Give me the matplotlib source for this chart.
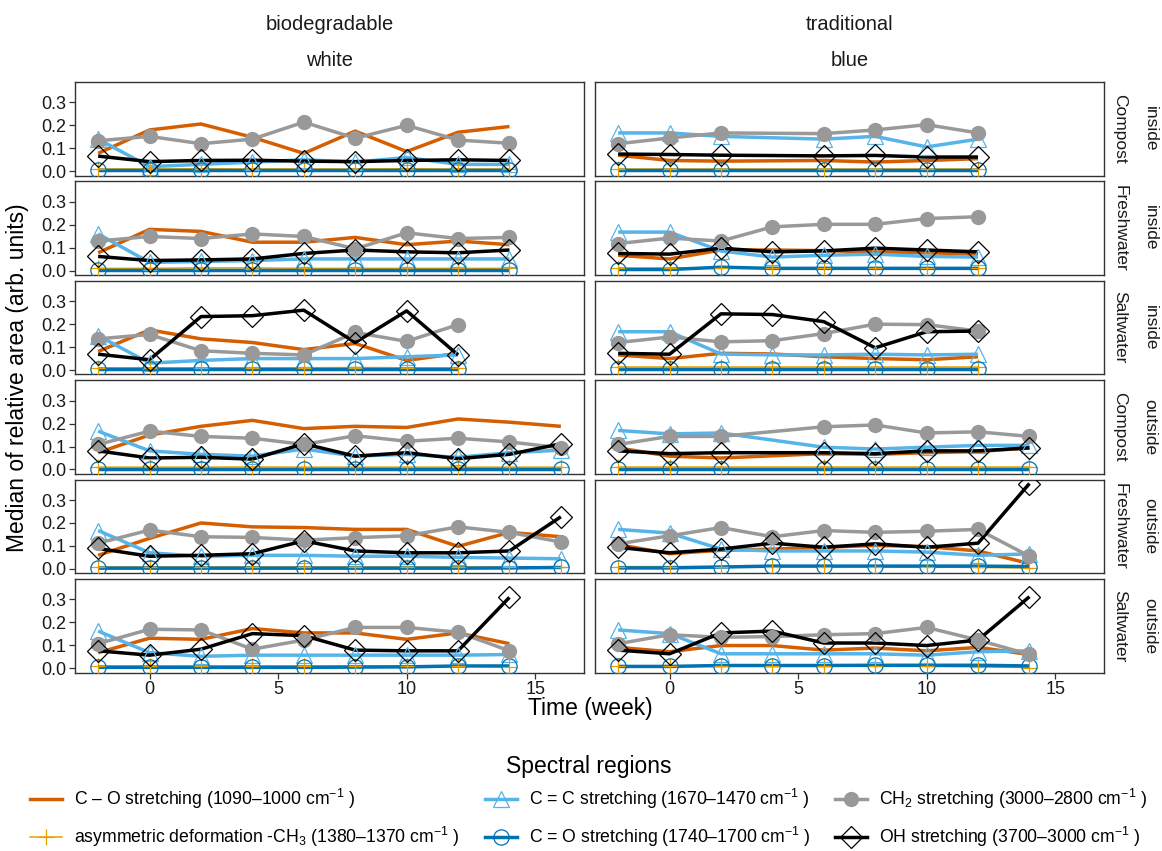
"""
Median relative area of spectral regions over time, faceted by plastic and medium
"""

import matplotlib

matplotlib.use("Agg")
import matplotlib.pyplot as plt
from matplotlib.lines import Line2D

plt.rcParams["font.family"] = ["Liberation Sans", "DejaVu Sans"]
plt.rcParams["mathtext.fontset"] = "custom"
plt.rcParams["mathtext.rm"] = "Liberation Sans"
plt.rcParams["mathtext.it"] = "Liberation Sans:italic"

# facets
plastics = ["biodegradable", "traditional"]
colours = ["white", "blue"]
media = ["Compost", "Freshwater", "Saltwater", "Compost", "Freshwater", "Saltwater"]
places = ["inside", "inside", "inside", "outside", "outside", "outside"]

# time points, one list per row (inside C/F/S, outside C/F/S)
weeks_bio = [
    [-2, 0, 2, 4, 6, 8, 10, 12, 14],
    [-2, 0, 2, 4, 6, 8, 10, 12, 14],
    [-2, 0, 2, 4, 6, 8, 10, 12],
    [-2, 0, 2, 4, 6, 8, 10, 12, 14, 16],
    [-2, 0, 2, 4, 6, 8, 10, 12, 14, 16],
    [-2, 0, 2, 4, 6, 8, 10, 12, 14],
]
weeks_trad = [
    [-2, 0, 2, 6, 8, 10, 12],
    [-2, 0, 2, 4, 6, 8, 10, 12],
    [-2, 0, 2, 4, 6, 8, 10, 12],
    [-2, 0, 2, 6, 8, 10, 12, 14],
    [-2, 0, 2, 4, 6, 8, 10, 12, 14],
    [-2, 0, 2, 4, 6, 8, 10, 12, 14],
]

# C - O stretching
co_bio = [
    [0.078, 0.18, 0.206, 0.148, 0.078, 0.175, 0.086, 0.17, 0.195],
    [0.078, 0.18, 0.171, 0.124, 0.124, 0.145, 0.113, 0.129, 0.113],
    [0.081, 0.175, 0.136, 0.12, 0.089, 0.116, 0.042, 0.073],
    [0.073, 0.15, 0.188, 0.214, 0.178, 0.188, 0.183, 0.22, 0.206, 0.188],
    [0.059, 0.133, 0.2, 0.183, 0.18, 0.172, 0.172, 0.098, 0.159, 0.14],
    [0.068, 0.131, 0.126, 0.173, 0.154, 0.154, 0.126, 0.154, 0.107],
]
co_trad = [
    [0.07, 0.047, 0.044, 0.047, 0.04, 0.047, 0.055],
    [0.067, 0.051, 0.09, 0.09, 0.087, 0.082, 0.078, 0.072],
    [0.066, 0.05, 0.073, 0.07, 0.058, 0.05, 0.045, 0.058],
    [0.094, 0.058, 0.05, 0.069, 0.066, 0.073, 0.078, 0.094],
    [0.106, 0.066, 0.081, 0.086, 0.094, 0.102, 0.097, 0.078, 0.023],
    [0.091, 0.072, 0.099, 0.099, 0.079, 0.088, 0.076, 0.091, 0.06],
]

# asymmetric deformation -CH3
ch3_bio = [
    [0.01, 0.01, 0.011, 0.01, 0.01, 0.01, 0.011, 0.01, 0.01],
    [0.01, 0.01, 0.012, 0.012, 0.01, 0.01, 0.01, 0.01, 0.01],
    [0.01, 0.01, 0.01, 0.01, 0.01, 0.011, 0.01, 0.01],
    [0.01, 0.01, 0.01, 0.011, 0.01, 0.01, 0.01, 0.01, 0.01, 0.01],
    [0.008, 0.008, 0.008, 0.008, 0.008, 0.008, 0.008, 0.008, 0.008, 0.008],
    [0.01, 0.01, 0.01, 0.01, 0.01, 0.01, 0.01, 0.01, 0.006],
]
ch3_trad = [
    [0.012, 0.012, 0.012, 0.012, 0.012, 0.012, 0.012],
    [0.012, 0.012, 0.012, 0.012, 0.012, 0.012, 0.012, 0.012],
    [0.012, 0.012, 0.012, 0.012, 0.012, 0.012, 0.012, 0.012],
    [0.01, 0.01, 0.01, 0.01, 0.01, 0.01, 0.01, 0.01],
    [0.01, 0.01, 0.01, 0.01, 0.01, 0.01, 0.008, 0.006, 0.004],
    [0.01, 0.01, 0.01, 0.01, 0.01, 0.008, 0.008, 0.006, 0.003],
]

# C = C stretching
cc_bio = [
    [0.14, 0.02, 0.03, 0.04, 0.05, 0.04, 0.06, 0.03, 0.03],
    [0.16, 0.036, 0.04, 0.044, 0.051, 0.051, 0.051, 0.051, 0.051],
    [0.15, 0.03, 0.042, 0.05, 0.05, 0.05, 0.058, 0.066],
    [0.167, 0.081, 0.066, 0.058, 0.089, 0.058, 0.066, 0.053, 0.073, 0.084],
    [0.167, 0.07, 0.055, 0.059, 0.059, 0.055, 0.055, 0.05, 0.047, 0.044],
    [0.162, 0.068, 0.052, 0.057, 0.057, 0.057, 0.057, 0.057, 0.06],
]
cc_trad = [
    [0.167, 0.167, 0.152, 0.14, 0.152, 0.106, 0.14],
    [0.168, 0.168, 0.086, 0.059, 0.067, 0.072, 0.062, 0.059],
    [0.167, 0.167, 0.07, 0.066, 0.066, 0.069, 0.066, 0.069],
    [0.17, 0.155, 0.159, 0.097, 0.089, 0.097, 0.105, 0.105],
    [0.172, 0.156, 0.086, 0.078, 0.078, 0.078, 0.073, 0.059, 0.065],
    [0.167, 0.151, 0.063, 0.063, 0.063, 0.063, 0.057, 0.072, 0.076],
]

# C = O stretching
cdo_bio = [
    [0.004, 0.004, 0.004, 0.004, 0.004, 0.004, 0.004, 0.004, 0.004],
    [0.004, 0.004, 0.004, 0.004, 0.004, 0.004, 0.004, 0.004, 0.004],
    [0.004, 0.004, 0.004, 0.004, 0.004, 0.004, 0.004, 0.004],
    [0.003, 0.003, 0.003, 0.003, 0.003, 0.003, 0.003, 0.003, 0.003, 0.003],
    [0.003, 0.003, 0.003, 0.003, 0.003, 0.003, 0.003, 0.003, 0.004, 0.006],
    [0.004, 0.004, 0.004, 0.004, 0.004, 0.005, 0.006, 0.01, 0.01],
]
cdo_trad = [
    [0.004, 0.004, 0.004, 0.004, 0.004, 0.004, 0.004],
    [0.005, 0.005, 0.015, 0.01, 0.01, 0.01, 0.01, 0.01],
    [0.004, 0.004, 0.004, 0.004, 0.004, 0.004, 0.004, 0.004],
    [0.004, 0.004, 0.004, 0.004, 0.004, 0.004, 0.004, 0.004],
    [0.004, 0.004, 0.008, 0.012, 0.012, 0.012, 0.012, 0.012, 0.01],
    [0.008, 0.008, 0.012, 0.012, 0.012, 0.013, 0.013, 0.013, 0.01],
]

# CH2 stretching
ch2_bio = [
    [0.133, 0.152, 0.12, 0.14, 0.214, 0.144, 0.2, 0.136, 0.122],
    [0.129, 0.149, 0.14, 0.16, 0.149, 0.095, 0.165, 0.14, 0.145],
    [0.136, 0.155, 0.084, 0.073, 0.066, 0.164, 0.125, 0.198],
    [0.109, 0.167, 0.144, 0.136, 0.109, 0.147, 0.123, 0.136, 0.12, 0.094],
    [0.112, 0.169, 0.14, 0.137, 0.125, 0.136, 0.144, 0.183, 0.159, 0.117],
    [0.107, 0.17, 0.167, 0.083, 0.123, 0.178, 0.178, 0.157, 0.076],
]
ch2_trad = [
    [0.12, 0.145, 0.167, 0.164, 0.18, 0.203, 0.167],
    [0.118, 0.142, 0.129, 0.191, 0.202, 0.202, 0.227, 0.235],
    [0.12, 0.144, 0.123, 0.128, 0.159, 0.2, 0.198, 0.17],
    [0.109, 0.144, 0.144, 0.186, 0.194, 0.159, 0.164, 0.144],
    [0.109, 0.144, 0.18, 0.14, 0.167, 0.159, 0.164, 0.172, 0.055],
    [0.107, 0.146, 0.135, 0.138, 0.146, 0.151, 0.178, 0.123, 0.06],
]

# OH stretching
oh_bio = [
    [0.066, 0.042, 0.047, 0.048, 0.044, 0.042, 0.047, 0.05, 0.047],
    [0.062, 0.044, 0.047, 0.051, 0.075, 0.09, 0.082, 0.078, 0.09],
    [0.069, 0.045, 0.233, 0.237, 0.261, 0.12, 0.258, 0.066],
    [0.081, 0.05, 0.053, 0.045, 0.112, 0.058, 0.073, 0.047, 0.066, 0.112],
    [0.089, 0.055, 0.059, 0.066, 0.122, 0.078, 0.07, 0.07, 0.078, 0.227],
    [0.076, 0.057, 0.083, 0.151, 0.142, 0.079, 0.076, 0.076, 0.309],
]
oh_trad = [
    [0.075, 0.073, 0.07, 0.067, 0.069, 0.062, 0.062],
    [0.075, 0.072, 0.098, 0.082, 0.086, 0.098, 0.09, 0.082],
    [0.073, 0.069, 0.245, 0.242, 0.211, 0.097, 0.167, 0.17],
    [0.081, 0.069, 0.073, 0.073, 0.069, 0.081, 0.081, 0.094],
    [0.094, 0.07, 0.086, 0.112, 0.094, 0.109, 0.094, 0.112, 0.372],
    [0.079, 0.063, 0.154, 0.162, 0.11, 0.11, 0.099, 0.123, 0.312],
]

region_labels = [
    r"C – O stretching (1090–1000 cm$^{-1}$ )",
    r"asymmetric deformation -CH$_3$ (1380–1370 cm$^{-1}$ )",
    r"C = C stretching (1670–1470 cm$^{-1}$ )",
    r"C = O stretching (1740–1700 cm$^{-1}$ )",
    r"CH$_2$ stretching (3000–2800 cm$^{-1}$ )",
    r"OH stretching (3700–3000 cm$^{-1}$ )",
]

# style per spectral region: colour, line width, marker, marker size, filled
styles = [
    ("#D55E00", 2.5, None, 0, False),
    ("#E69F00", 1.1, "+", 11, False),
    ("#56B4E9", 2.5, "^", 12, False),
    ("#0072B2", 2.5, "o", 11, False),
    ("#999999", 2.5, "o", 11, True),
    ("#000000", 2.5, "D", 11, False),
]

W, H = 1162, 851
COL_X = [(75, 584), (595, 1104)]
ROW_TOP, ROW_PITCH, ROW_H = 82, 99.4, 93.5


def px_axes(fig, x0, y0, x1, y1):
    return fig.add_axes([x0 / W, 1 - y1 / H, (x1 - x0) / W, (y1 - y0) / H])


def plot_panel(ax, weeks, series):
    for i, (vals, st) in enumerate(zip(series, styles)):
        col, lw, mk, ms, filled = st
        ax.plot(weeks, vals, color=col, lw=lw, zorder=2 + i * 0.01,
                solid_joinstyle="round", solid_capstyle="butt")
    for i, (vals, st) in enumerate(zip(series, styles)):
        col, lw, mk, ms, filled = st
        if mk is None:
            continue
        ax.plot(weeks, vals, ls="none", marker=mk, ms=ms,
                mfc=col if filled else "none", mec=col,
                mew=0 if filled else 0.9, zorder=3 + i * 0.01)


def main():
    fig = plt.figure(figsize=(W / 100, H / 100), dpi=100)
    groups = [
        (weeks_bio, [co_bio, ch3_bio, cc_bio, cdo_bio, ch2_bio, oh_bio]),
        (weeks_trad, [co_trad, ch3_trad, cc_trad, cdo_trad, ch2_trad, oh_trad]),
    ]
    for c, (weeks, data) in enumerate(groups):
        x0, x1 = COL_X[c]
        for r in range(6):
            y0 = ROW_TOP + r * ROW_PITCH
            ax = px_axes(fig, x0, y0, x1, y0 + ROW_H)
            plot_panel(ax, weeks[r], [d[r] for d in data])
            ax.set_xlim(-2.9, 16.9)
            ax.set_ylim(-0.0185, 0.389)
            ax.set_xticks([0, 5, 10, 15])
            ax.set_yticks([0.0, 0.1, 0.2, 0.3])
            ax.set_yticklabels(["0.0", "0.1", "0.2", "0.3"])
            for s in ax.spines.values():
                s.set_color("#333333")
                s.set_linewidth(1.0)
            ax.tick_params(direction="out", length=4, width=0.9, color="#333333",
                           labelsize=13, labelcolor="#1a1a1a", pad=2)
            if c == 1:
                ax.tick_params(axis="y", left=False, labelleft=False)
                fig.text(1120 / W, 1 - (y0 + ROW_H / 2) / H, media[r], rotation=-90,
                         ha="center", va="center", fontsize=12.5, color="#1a1a1a")
                fig.text(1150 / W, 1 - (y0 + ROW_H / 2) / H, places[r], rotation=-90,
                         ha="center", va="center", fontsize=12.5, color="#1a1a1a")
            if r < 5:
                ax.tick_params(axis="x", bottom=False, labelbottom=False)
        xc = (x0 + x1) / 2
        fig.text(xc / W, 1 - 24 / H, plastics[c], ha="center", va="center",
                 fontsize=14.5, color="#1a1a1a")
        fig.text(xc / W, 1 - 60 / H, colours[c], ha="center", va="center",
                 fontsize=14.5, color="#1a1a1a")

    fig.text(18 / W, 1 - 378 / H, "Median of relative area (arb. units)", rotation=90,
             ha="center", va="center", fontsize=16.5)
    fig.text(590 / W, 1 - 709 / H, "Time (week)", ha="center", va="center", fontsize=16.5)

    handles = []
    for col, lw, mk, ms, filled in styles:
        handles.append(Line2D([], [], color=col, lw=lw, marker=mk, ms=ms,
                              mfc=col if filled else "none", mec=col,
                              mew=0 if filled else 0.9))
    leg = fig.legend(handles, region_labels, ncol=3, loc="upper center",
                     bbox_to_anchor=(0.5 + 8 / W, 1 - 743 / H), frameon=False,
                     fontsize=12.7, title="Spectral regions", title_fontsize=16.5,
                     handlelength=1.8, labelspacing=0.82, columnspacing=1.4,
                     handletextpad=0.7, borderpad=0.2)
    leg._legend_box.sep = 6

    fig.savefig("out.png", dpi=100)


if __name__ == "__main__":
    main()
